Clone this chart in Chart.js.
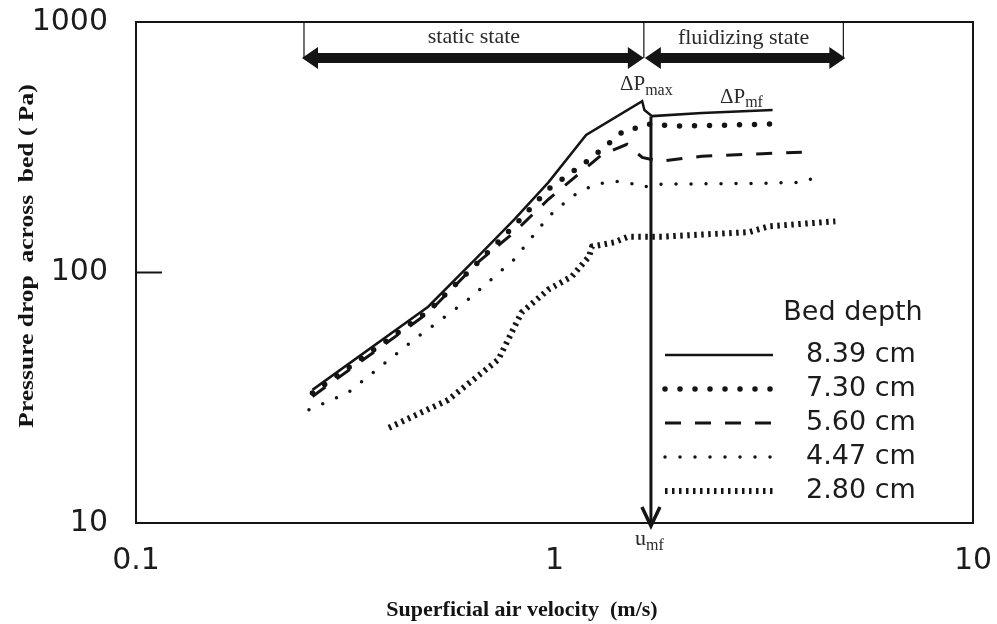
<!DOCTYPE html>
<html>
<head>
<meta charset="utf-8">
<script src="https://cdn.jsdelivr.net/npm/chart.js@4/dist/chart.umd.min.js"></script>
<style>
  html, body { margin:0; padding:0; background:#fff; }
  #wrap { width:997px; height:624px; }
</style>
</head>
<body>
<div id="wrap"><canvas id="c" width="997" height="624"></canvas></div>
<script>
// superficial air velocity (m/s) and pressure drop (Pa) per bed depth
const v839 = [0.264, 0.499, 0.657, 0.802, 0.967, 1.19, 1.62, 1.64, 1.71, 2.25, 3.32];
const p839 = [34, 73, 116, 163, 229, 354, 483, 445, 421, 433, 445];
const v730 = [0.264, 0.499, 0.657, 0.802, 0.967, 1.23, 1.45, 1.68, 2.0, 3.45];
const p730 = [33, 70, 110, 154, 215, 288, 363, 391, 384, 392];
const v560 = [0.264, 0.499, 0.657, 0.802, 0.967, 1.30, 1.49, 1.62, 1.78, 2.25, 3.14, 3.9];
const p560 = [32, 69, 110, 145, 196, 296, 325, 288, 278, 291, 298, 302];
const v447 = [0.259, 0.321, 0.462, 0.622, 0.802, 0.967, 1.10, 1.25, 1.39, 1.50, 1.62, 1.76, 3.14, 3.91, 4.25];
const p447 = [28.3, 33.1, 54, 78, 113, 167, 201, 225, 231, 229, 219, 225, 227, 229, 242];
const v280 = [0.402, 0.557, 0.734, 0.834, 0.967, 1.10, 1.21, 1.23, 1.39, 1.50, 1.81, 2.92, 3.26, 4.69];
const p280 = [24, 31, 44.9, 69.2, 85.5, 96.4, 116, 127, 132, 139, 139, 145, 153, 160];

const depthLabels = ["8.39 cm", "7.30 cm", "5.60 cm", "4.47 cm", "2.80 cm"];
const xTicks = [0.1, 1, 10];
const yTicks = [10, 100, 1000];

// annotation positions in data units
const uMf = 1.70;
const staticStart = 0.252;
const stateBoundary = 1.635;
const fluidEnd = 4.9;

const pts = (xs, ys) => xs.map((v, i) => ({ x: v, y: ys[i] }));
const INK = "#141414";

function ds(label, data, extra){
  return Object.assign({
    label, data, borderColor:INK, backgroundColor:INK,
    borderWidth:2.5, pointRadius:0, tension:0, fill:false
  }, extra);
}

const datasets = [
  ds(depthLabels[0], pts(v839, p839), { borderWidth:2.5 }),
  ds(depthLabels[1], pts(v730, p730), { borderWidth:5.5, borderDash:[0,15], borderCapStyle:"round" }),
  ds(depthLabels[2], pts(v560, p560), { borderWidth:3, borderDash:[16,14] }),
  ds(depthLabels[3], pts(v447, p447), { borderWidth:3.5, borderDash:[0,15], borderCapStyle:"round" }),
  ds(depthLabels[4], pts(v280, p280), { borderWidth:6, borderDash:[2.5,4.5] })
];

function line(ctx, x1, y1, x2, y2){
  ctx.beginPath(); ctx.moveTo(x1, y1); ctx.lineTo(x2, y2); ctx.stroke();
}

function doubleArrow(ctx, x1, x2, y){
  const th = 5, hh = 11, hl = 16;
  ctx.beginPath();
  ctx.moveTo(x1, y);
  ctx.lineTo(x1 + hl, y - hh); ctx.lineTo(x1 + hl, y - th);
  ctx.lineTo(x2 - hl, y - th); ctx.lineTo(x2 - hl, y - hh);
  ctx.lineTo(x2, y);
  ctx.lineTo(x2 - hl, y + hh); ctx.lineTo(x2 - hl, y + th);
  ctx.lineTo(x1 + hl, y + th); ctx.lineTo(x1 + hl, y + hh);
  ctx.closePath(); ctx.fill();
}

function subText(ctx, main, sub, x, y, size, subSize, drop){
  ctx.font = size + "px 'Liberation Serif'";
  ctx.textAlign = "left"; ctx.textBaseline = "alphabetic";
  ctx.fillText(main, x, y);
  const w = ctx.measureText(main).width;
  ctx.font = subSize + "px 'Liberation Serif'";
  ctx.fillText(sub, x + w, y + drop);
}

const deco = {
  id:"deco",
  afterDraw(chart){
    const { ctx, chartArea:a, scales:{ x, y } } = chart;
    ctx.save();
    ctx.strokeStyle = INK; ctx.fillStyle = INK;

    // frame and the inner tick at 100
    ctx.lineWidth = 2;
    ctx.strokeRect(a.left, a.top, a.right - a.left, a.bottom - a.top);
    const y100 = y.getPixelForValue(100);
    line(ctx, a.left, y100, a.left + 26, y100);

    // state brackets
    const xs = x.getPixelForValue(staticStart);
    const xb = x.getPixelForValue(stateBoundary);
    const xf = x.getPixelForValue(fluidEnd);
    const ya = a.top + 36;
    ctx.lineWidth = 1.2;
    line(ctx, xs, a.top, xs, ya);
    line(ctx, xb, a.top, xb, ya);
    line(ctx, xf, a.top, xf, ya);
    doubleArrow(ctx, xs - 2, xb, ya);
    doubleArrow(ctx, xb + 1, xf + 2, ya);

    ctx.font = "22px 'Liberation Serif'";
    ctx.textAlign = "center"; ctx.textBaseline = "middle";
    ctx.fillStyle = "#2a2a2a";
    ctx.fillText("static state", (xs + xb) / 2, a.top + 15);
    ctx.fillText("fluidizing state", (xb + xf) / 2, a.top + 16);

    // u_mf arrow
    const xu = x.getPixelForValue(uMf);
    ctx.fillStyle = INK;
    ctx.lineWidth = 3;
    line(ctx, xu, y.getPixelForValue(420), xu, a.bottom + 2);
    ctx.lineWidth = 3.5;
    ctx.beginPath();
    ctx.moveTo(xu - 9, a.bottom - 16); ctx.lineTo(xu, a.bottom + 3); ctx.lineTo(xu + 9, a.bottom - 16);
    ctx.stroke();

    ctx.fillStyle = "#2a2a2a";
    subText(ctx, "\u0394P", "max", xu - 31, a.top + 68, 21, 16, 5);
    subText(ctx, "\u0394P", "mf", xu + 69, a.top + 81, 21, 16, 4);
    subText(ctx, "u", "mf", xu - 16, a.bottom + 22, 22, 16, 5);

    // legend
    ctx.fillStyle = "#1c1c1c";
    ctx.font = "27px 'DejaVu Sans'";
    ctx.textAlign = "center"; ctx.textBaseline = "middle";
    ctx.fillText("Bed depth", 853, 313);
    ctx.textAlign = "left";
    chart.data.datasets.forEach((d, i) => {
      const ly = 355 + i * 34;
      ctx.save();
      ctx.strokeStyle = d.borderColor;
      ctx.lineWidth = d.borderWidth;
      ctx.lineCap = d.borderCapStyle || "butt";
      ctx.setLineDash(d.borderDash || []);
      line(ctx, 665, ly, 773, ly);
      ctx.restore();
      ctx.fillText(d.label, 806, ly);
    });

    // axis titles
    ctx.fillStyle = INK;
    ctx.font = "bold 22px 'Liberation Serif'";
    ctx.textAlign = "center"; ctx.textBaseline = "middle";
    ctx.fillText("Superficial air velocity  (m/s)", 522, 610);
    ctx.save();
    ctx.translate(27, 256);
    ctx.rotate(-Math.PI / 2);
    ctx.scale(1.16, 1);
    ctx.fillText("Pressure drop  across  bed ( Pa)", 0, 0);
    ctx.restore();

    ctx.restore();
  }
};

function noPad(s){
  s.paddingTop = 0; s.paddingBottom = 0; s.paddingLeft = 0; s.paddingRight = 0;
}

new Chart(document.getElementById("c").getContext("2d"), {
  type:"line",
  data:{ datasets },
  options:{
    responsive:false, animation:false,
    layout:{ padding:{ top:22, right:24, left:0, bottom:0 } },
    plugins:{ legend:{ display:false }, tooltip:{ enabled:false } },
    scales:{
      x:{
        type:"logarithmic", min:0.1, max:10,
        afterBuildTicks:s => { s.ticks = xTicks.map(v => ({ value:v })); },
        afterFit:s => { s.height = 101; noPad(s); },
        grid:{ display:false }, border:{ display:false },
        ticks:{ callback:v => String(v), padding:12, maxRotation:0, color:"#1c1c1c",
                font:{ family:"'DejaVu Sans'", size:30 } }
      },
      y:{
        type:"logarithmic", min:10, max:1000,
        afterBuildTicks:s => { s.ticks = yTicks.map(v => ({ value:v })); },
        afterFit:s => { s.width = 136; noPad(s); },
        grid:{ display:false }, border:{ display:false },
        ticks:{ callback:v => String(v), padding:20, color:"#1c1c1c",
                font:{ family:"'DejaVu Sans'", size:30 } }
      }
    }
  },
  plugins:[deco]
});
</script>
</body>
</html>
